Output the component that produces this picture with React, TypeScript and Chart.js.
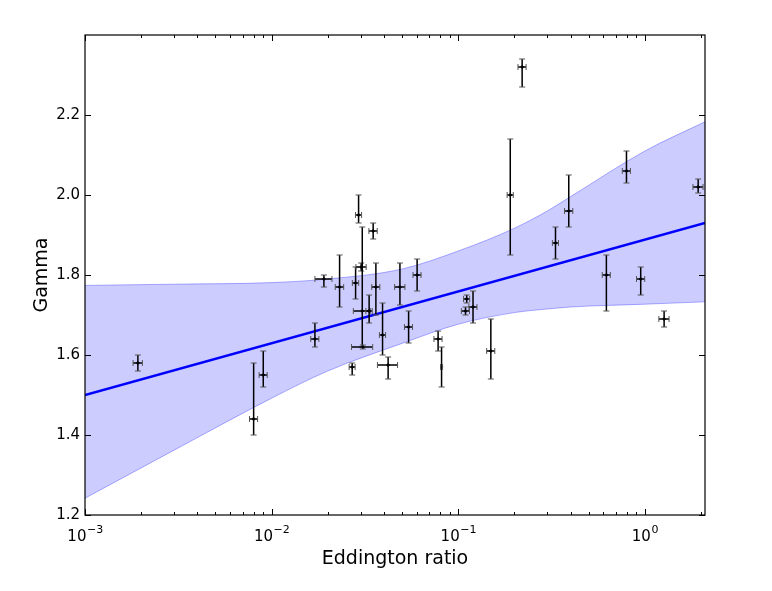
import React, { useRef, useEffect } from 'react';
import { Chart, registerables } from 'chart.js';

Chart.register(...registerables);

// sources: Eddington ratio (with symmetric error) and photon index Gamma (with asymmetric range)
const eddRatio = [0.00192, 0.00801, 0.00902, 0.01706, 0.01906, 0.02313, 0.02702, 0.02924, 0.02818, 0.0302, 0.0306, 0.0308, 0.0333, 0.035, 0.0362, 0.0393, 0.0421, 0.0487, 0.0542, 0.0602, 0.078, 0.0814, 0.111, 0.1094, 0.12, 0.1495, 0.19, 0.22, 0.332, 0.391, 0.622, 0.797, 0.95, 1.268, 1.93];
const eddErr = [0.00011, 0.0004, 0.00045, 0.00086, 0.002, 0.0012, 0.001, 0.0011, 0.0011, 0.0019, 0.0032, 0.004, 0.0013, 0.0018, 0.0018, 0.0015, 0.0052, 0.0031, 0.0027, 0.003, 0.0039, 0.001, 0.0042, 0.0055, 0.006, 0.0075, 0.0072, 0.011, 0.0125, 0.02, 0.031, 0.04, 0.048, 0.08, 0.12];
const gamma = [1.58, 1.44, 1.55, 1.64, 1.79, 1.77, 1.57, 1.95, 1.78, 1.82, 1.71, 1.62, 1.71, 1.91, 1.77, 1.65, 1.575, 1.77, 1.67, 1.80, 1.64, 1.57, 1.74, 1.71, 1.72, 1.61, 2.00, 2.32, 1.88, 1.96, 1.80, 2.06, 1.79, 1.69, 2.02];
const gammaLow = [1.56, 1.40, 1.52, 1.62, 1.77, 1.72, 1.55, 1.93, 1.74, 1.81, 1.62, 1.615, 1.68, 1.89, 1.70, 1.60, 1.54, 1.725, 1.63, 1.76, 1.61, 1.52, 1.73, 1.70, 1.68, 1.54, 1.85, 2.27, 1.84, 1.92, 1.71, 2.03, 1.75, 1.67, 2.005];
const gammaHigh = [1.60, 1.58, 1.61, 1.68, 1.80, 1.85, 1.58, 2.00, 1.82, 1.83, 1.92, 1.625, 1.75, 1.93, 1.83, 1.73, 1.595, 1.83, 1.71, 1.84, 1.66, 1.62, 1.75, 1.72, 1.76, 1.69, 2.14, 2.34, 1.92, 2.05, 1.85, 2.11, 1.82, 1.71, 2.04];

// regression line and its confidence band
const fitX = [0.001, 2.1];
const fitGamma = [1.50, 1.93];
const bandX = [0.001, 0.003, 0.01, 0.02, 0.05, 0.1, 0.2, 0.3, 0.4, 1, 2.1];
const bandUpper = [1.774, 1.777, 1.781, 1.79, 1.815, 1.86, 1.917, 1.96, 1.996, 2.11, 2.183];
const bandLower = [1.242, 1.362, 1.492, 1.56, 1.629, 1.677, 1.706, 1.715, 1.72, 1.727, 1.733];

// axes
const xMajorTicks = [0.001, 0.01, 0.1, 1];
const xTickExponents = ['−3', '−2', '−1', '0'];
const xMinorSteps = [2, 3, 4, 5, 6, 7, 8, 9];
const yTicks = [1.2, 1.4, 1.6, 1.8, 2.0, 2.2];

const X_MIN = 0.001;
const X_MAX = 2.1;
const FONT = '"DejaVu Sans", sans-serif';

const isMajor = (v: number) => xMajorTicks.some((m) => Math.abs(m - v) / m < 1e-6);

const errorBarPlugin = {
    id: 'errorBars',
    afterDatasetsDraw(chart: any) {
        const { ctx, scales: { x, y } } = chart;
        const cap = 3;
        ctx.save();
        for (let i = 0; i < eddRatio.length; i++) {
            const px = x.getPixelForValue(eddRatio[i]);
            const py = y.getPixelForValue(gamma[i]);
            const x0 = x.getPixelForValue(eddRatio[i] - eddErr[i]);
            const x1 = x.getPixelForValue(eddRatio[i] + eddErr[i]);
            const y0 = y.getPixelForValue(gammaLow[i]);
            const y1 = y.getPixelForValue(gammaHigh[i]);
            ctx.strokeStyle = '#000';
            ctx.lineWidth = 1.5;
            ctx.beginPath();
            ctx.moveTo(px, y0);
            ctx.lineTo(px, y1);
            ctx.moveTo(x0, py);
            ctx.lineTo(x1, py);
            ctx.stroke();
            ctx.strokeStyle = '#555';
            ctx.lineWidth = 1;
            ctx.beginPath();
            ctx.moveTo(px - cap, y0);
            ctx.lineTo(px + cap, y0);
            ctx.moveTo(px - cap, y1);
            ctx.lineTo(px + cap, y1);
            ctx.moveTo(x0, py - cap);
            ctx.lineTo(x0, py + cap);
            ctx.moveTo(x1, py - cap);
            ctx.lineTo(x1, py + cap);
            ctx.stroke();
        }
        ctx.restore();
    }
};

// matplotlib-like frame with inward ticks on all four sides, and 10^n labels
const framePlugin = {
    id: 'frame',
    afterDraw(chart: any) {
        const { ctx, chartArea: { left, right, top, bottom }, scales: { x, y } } = chart;
        ctx.save();
        ctx.strokeStyle = '#000';
        ctx.lineWidth = 1.2;
        ctx.strokeRect(left, top, right - left, bottom - top);
        ctx.lineWidth = 1;
        ctx.beginPath();
        x.ticks.forEach((t: any) => {
            const px = Math.round(x.getPixelForValue(t.value)) + 0.5;
            const len = isMajor(t.value) ? 6 : 3;
            ctx.moveTo(px, bottom);
            ctx.lineTo(px, bottom - len);
            ctx.moveTo(px, top);
            ctx.lineTo(px, top + len);
        });
        y.ticks.forEach((t: any) => {
            const py = Math.round(y.getPixelForValue(t.value)) + 0.5;
            ctx.moveTo(left, py);
            ctx.lineTo(left + 6, py);
            ctx.moveTo(right, py);
            ctx.lineTo(right - 6, py);
        });
        ctx.stroke();

        ctx.fillStyle = '#000';
        ctx.textAlign = 'left';
        ctx.textBaseline = 'alphabetic';
        xMajorTicks.forEach((m, i) => {
            const px = x.getPixelForValue(m);
            ctx.font = `15px ${FONT}`;
            const baseW = ctx.measureText('10').width;
            ctx.font = `11px ${FONT}`;
            const expW = ctx.measureText(xTickExponents[i]).width;
            const start = px - (baseW + expW) / 2;
            ctx.font = `15px ${FONT}`;
            ctx.fillText('10', start, bottom + 26);
            ctx.font = `11px ${FONT}`;
            ctx.fillText(xTickExponents[i], start + baseW + 0.5, bottom + 18);
        });
        ctx.restore();
    }
};

const GammaChart: React.FC = () => {
    const chartRef = useRef<HTMLCanvasElement>(null);

    useEffect(() => {
        let chartInstance: Chart | undefined;
        if (chartRef.current) {
            const ctx = chartRef.current.getContext('2d');
            if (ctx) {
                Chart.defaults.font.family = FONT;
                Chart.defaults.color = '#000';

                chartInstance = new Chart(ctx, {
                    type: 'scatter',
                    data: {
                        datasets: [
                            {
                                type: 'line',
                                label: 'upper',
                                data: bandX.map((v, i) => ({ x: v, y: bandUpper[i] })),
                                borderColor: 'rgba(0, 0, 255, 0.3)',
                                borderWidth: 1,
                                backgroundColor: 'rgba(0, 0, 255, 0.2)',
                                pointRadius: 0,
                                cubicInterpolationMode: 'monotone',
                                fill: '+1'
                            },
                            {
                                type: 'line',
                                label: 'lower',
                                data: bandX.map((v, i) => ({ x: v, y: bandLower[i] })),
                                borderColor: 'rgba(0, 0, 255, 0.3)',
                                borderWidth: 1,
                                pointRadius: 0,
                                cubicInterpolationMode: 'monotone',
                                fill: false
                            },
                            {
                                type: 'line',
                                label: 'fit',
                                data: fitX.map((v, i) => ({ x: v, y: fitGamma[i] })),
                                borderColor: '#0000ff',
                                borderWidth: 2.5,
                                pointRadius: 0,
                                fill: false
                            },
                            {
                                label: 'sources',
                                data: eddRatio.map((v, i) => ({ x: v, y: gamma[i] })),
                                backgroundColor: '#000',
                                borderColor: '#000',
                                pointRadius: 1.2
                            }
                        ]
                    },
                    options: {
                        animation: false,
                        responsive: false,
                        events: [],
                        layout: { padding: { top: 35, right: 67, bottom: 0, left: 0 } },
                        plugins: {
                            legend: { display: false },
                            tooltip: { enabled: false }
                        },
                        scales: {
                            x: {
                                type: 'logarithmic',
                                min: X_MIN,
                                max: X_MAX,
                                grid: { display: false, drawTicks: false },
                                border: { display: false },
                                afterBuildTicks: (scale: any) => {
                                    const ticks: { value: number }[] = [];
                                    xMajorTicks.forEach((m) => {
                                        ticks.push({ value: m });
                                        xMinorSteps.forEach((s) => {
                                            if (m * s <= X_MAX) ticks.push({ value: m * s });
                                        });
                                    });
                                    scale.ticks = ticks;
                                },
                                afterFit: (scale: any) => {
                                    scale.height = 76;
                                },
                                ticks: {
                                    autoSkip: false,
                                    maxRotation: 0,
                                    font: { size: 15 },
                                    // labels with superscript exponents are drawn by the frame plugin
                                    callback: () => ''
                                },
                                title: {
                                    display: true,
                                    text: 'Eddington ratio',
                                    font: { size: 19 },
                                    padding: { top: 0, bottom: 21 }
                                }
                            },
                            y: {
                                type: 'linear',
                                min: 1.2,
                                max: 2.4,
                                grid: { display: false, drawTicks: false },
                                border: { display: false },
                                afterBuildTicks: (scale: any) => {
                                    scale.ticks = yTicks.map((v) => ({ value: v }));
                                },
                                afterFit: (scale: any) => {
                                    scale.width = 85;
                                },
                                ticks: {
                                    padding: 5,
                                    font: { size: 15 },
                                    callback: (value: any) => Number(value).toFixed(1)
                                },
                                title: {
                                    display: true,
                                    text: 'Gamma',
                                    font: { size: 19 },
                                    padding: { top: 31, bottom: 0 }
                                }
                            }
                        }
                    },
                    plugins: [errorBarPlugin, framePlugin]
                });
            }
        }

        return () => {
            if (chartInstance) {
                chartInstance.destroy();
            }
        };
    }, []);

    return (
        <div style={{ position: 'absolute', left: 0, top: 0, width: 772, height: 591, background: '#fff' }}>
            <canvas ref={chartRef} width={772} height={591} style={{ display: 'block' }}></canvas>
        </div>
    );
};

export default function App() {
    return <GammaChart />;
}
